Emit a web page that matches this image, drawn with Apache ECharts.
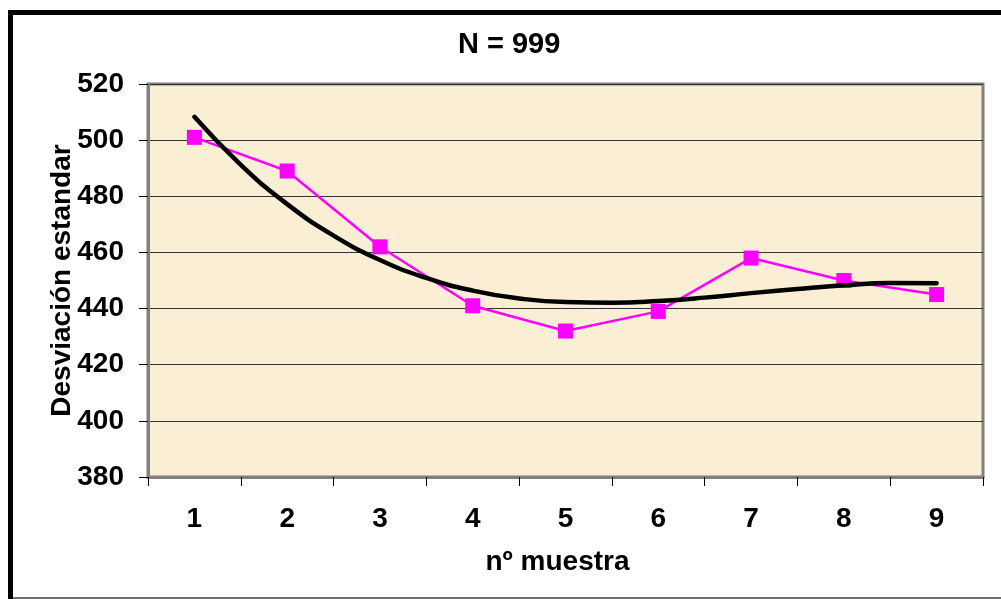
<!DOCTYPE html>
<html>
<head>
<meta charset="utf-8">
<script src="https://cdn.jsdelivr.net/npm/echarts@6/dist/echarts.min.js"></script>
<style>
html,body{margin:0;padding:0;background:#fff;}
#chart{width:1001px;height:599px;}
</style>
</head>
<body>
<div id="chart"></div>
<script>
const categories = ['1','2','3','4','5','6','7','8','9'];
const sampleValues = [501, 489, 462, 441, 432, 439, 458, 450, 445];
// polynomial trend line at half-category steps
const trendX = [1, 1.5, 2, 2.5, 3, 3.5, 4, 4.5, 5, 5.5, 6, 6.5, 7, 7.5, 8, 8.5, 9];
const trendY = [508.3, 491.2, 477.2, 466.0, 457.3, 450.9, 446.4, 443.6, 442.3, 442.1, 442.7, 443.9, 445.5, 447.0, 448.3, 449.1, 449.0];
const yTicks = { min: 380, max: 520, interval: 20 };
const titleText = 'N = 999';
const xName = 'nº muestra';
const yName = 'Desviación estandar';

const FONT = "'Liberation Sans', Arial, sans-serif";
const trendData = trendX.map((x, i) => [x, trendY[i]]);
const chart = echarts.init(document.getElementById('chart'), null, {renderer: 'canvas'});
chart.setOption({
  animation: false,
  backgroundColor: '#ffffff',
  grid: {
    left: 148, right: 18, top: 84, bottom: 122,
    show: true, backgroundColor: '#faeed5', borderColor: '#808080', borderWidth: 3
  },
  graphic: [
    { type: 'polyline', shape: { points: [[10.5, 600], [10.5, 12.5], [1010, 12.5]] },
      style: { stroke: '#000', lineWidth: 5, fill: null } },
    { type: 'line', shape: { x1: 13, y1: 598, x2: 1001, y2: 598 },
      style: { stroke: '#404040', lineWidth: 1.5 } },
    { type: 'text', left: 458, top: 30,
      style: { text: titleText, font: "bold 29px 'Liberation Sans', Arial, sans-serif", fill: '#000' } }
  ],
  xAxis: [{
    type: 'category',
    data: categories,
    boundaryGap: true,
    name: xName,
    nameLocation: 'middle',
    nameGap: 71,
    nameMoveOverlap: false,
    nameTextStyle: { fontFamily: FONT, fontWeight: 'bold', fontSize: 28, color: '#000', padding: [0, 16, 0, 0] },
    axisLine: { show: true, lineStyle: { color: '#808080', width: 3 } },
    axisTick: { show: true, alignWithLabel: false, length: 9, lineStyle: { color: '#000', width: 1 } },
    axisLabel: { margin: 28, fontFamily: FONT, fontWeight: 'bold', fontSize: 28, color: '#000' },
    splitLine: { show: false }
  }, {
    type: 'value',
    min: 0.5, max: 9.5,
    show: false,
    position: 'bottom'
  }],
  yAxis: {
    type: 'value',
    min: yTicks.min, max: yTicks.max, interval: yTicks.interval,
    name: yName,
    nameLocation: 'middle',
    nameGap: 72,
    nameMoveOverlap: false,
    nameTextStyle: { fontFamily: FONT, fontWeight: 'bold', fontSize: 28, color: '#000' },
    axisLine: { show: true, lineStyle: { color: '#808080', width: 3 } },
    axisTick: { show: true, length: 9, lineStyle: { color: '#000', width: 1 } },
    axisLabel: { margin: 24, fontFamily: FONT, fontWeight: 'bold', fontSize: 28, color: '#000' },
    splitLine: { show: true, lineStyle: { color: '#333333', width: 1.2 } }
  },
  series: [
    {
      name: 'muestra',
      type: 'line',
      xAxisIndex: 0,
      data: sampleValues,
      symbol: 'rect',
      symbolSize: 15,
      lineStyle: { color: '#ff00ff', width: 2.5 },
      itemStyle: { color: '#ff00ff', borderWidth: 0 },
      z: 3
    },
    {
      name: 'tendencia',
      type: 'line',
      xAxisIndex: 1,
      data: trendData,
      smooth: true,
      symbol: 'none',
      lineStyle: { color: '#000000', width: 4.5, cap: 'round' },
      z: 4
    }
  ]
});
</script>
</body>
</html>
